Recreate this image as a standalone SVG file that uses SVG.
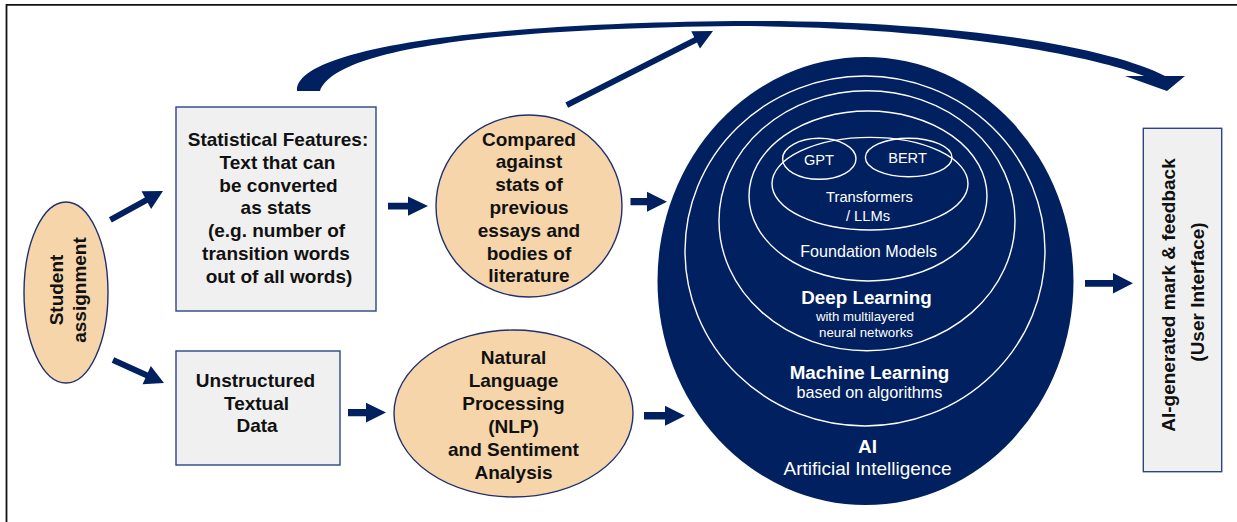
<svg xmlns="http://www.w3.org/2000/svg" width="1237" height="522" viewBox="0 0 1237 522">
<style>
.bg{fill:#ffffff}
.frame{stroke:#111111;stroke-width:1.8;fill:none}
.box{fill:#f0f0f0;stroke:#2f4383;stroke-width:1.4}
.peach{fill:#f6d5aa;stroke:#1f2f6f;stroke-width:1.4}
.navy{fill:#002060}
.ring{fill:none;stroke:#ffffff;stroke-width:1.4}
.arr{fill:#002060;stroke:none}
.t{font-family:"Liberation Sans",Arial,sans-serif;font-weight:bold;font-size:19px;fill:#111111;text-anchor:middle}
.w{font-family:"Liberation Sans",Arial,sans-serif;fill:#ffffff;text-anchor:middle}
.wb{font-weight:bold}
</style>
<rect class="bg" x="0" y="0" width="1237" height="522"/>
<path class="frame" d="M6.5,522 V4.8 H1237"/>

<g id="connectors">
  <!-- top curved arrow -->
  <path class="arr" d="M297,91 C295,52 455,24 735,21 C955,19 1112,48 1165,76 L1185,76 L1167,91 L1125,76 L1144,76 C1092,56 950,27 735,26 C470,29 334,52 320,91 Z"/>
  <!-- diagonal thin arrow up -->
  <path class="arr" transform="translate(713,31) rotate(-26.9)" d="M-164,-3 H-19.5 V-9.6 L0,0 L-19.5,9.6 V3 H-164 Z"/>
  <!-- student -> statistical -->
  <path class="arr" transform="translate(163,191) rotate(-28.7)" d="M-60,-3 H-19 V-10 L0,0 L-19,10 V3 H-60 Z"/>
  <!-- student -> unstructured -->
  <path class="arr" transform="translate(164,383) rotate(24.3)" d="M-56,-3 H-19 V-10 L0,0 L-19,10 V3 H-56 Z"/>
  <!-- statistical -> compared -->
  <path class="arr" d="M388,202.8 H408 V196.5 L428,206 L408,215.7 V209.4 H388 Z"/>
  <!-- compared -> AI -->
  <path class="arr" d="M630.5,198 H647 V191.7 L667,201.7 L647,211.7 V205.3 H630.5 Z"/>
  <!-- unstructured -> NLP -->
  <path class="arr" d="M348,409 H366 V402.7 L386,412.6 L366,422.4 V416.3 H348 Z"/>
  <!-- NLP -> AI -->
  <path class="arr" d="M644,412 H665 V405.7 L685,415.7 L665,425.7 V419.4 H644 Z"/>
  <!-- AI -> output -->
  <path class="arr" d="M1085,280 H1113 V273 L1133,283.2 L1113,293.4 V286.7 H1085 Z"/>
</g>

<g id="student">
  <ellipse class="peach" cx="66" cy="292.5" rx="42" ry="90.5"/>
  <text class="t" transform="translate(63,290) rotate(-90)">Student</text>
  <text class="t" transform="translate(85.5,290) rotate(-90)">assignment</text>
</g>

<g id="statistical">
  <rect class="box" x="176" y="107" width="200" height="204"/>
  <text class="t" x="278" y="146">Statistical Features:</text>
  <text class="t" x="277.5" y="168.8">Text that can</text>
  <text class="t" x="278.5" y="191.6">be converted</text>
  <text class="t" x="276" y="214.4">as stats</text>
  <text class="t" x="276.5" y="237.2">(e.g. number of</text>
  <text class="t" x="276" y="260">transition words</text>
  <text class="t" x="279" y="282.8">out of all words)</text>
</g>

<g id="unstructured">
  <rect class="box" x="176" y="351" width="164" height="114"/>
  <text class="t" x="255.5" y="387.3">Unstructured</text>
  <text class="t" x="256.5" y="409.6">Textual</text>
  <text class="t" x="257" y="432.2">Data</text>
</g>

<g id="compared">
  <ellipse class="peach" cx="529" cy="206" rx="93" ry="91"/>
  <text class="t" x="529" y="145.5">Compared</text>
  <text class="t" x="529" y="168.3">against</text>
  <text class="t" x="529" y="191.1">stats of</text>
  <text class="t" x="529" y="213.9">previous</text>
  <text class="t" x="529" y="236.7">essays and</text>
  <text class="t" x="529" y="259.5">bodies of</text>
  <text class="t" x="529" y="282.3">literature</text>
</g>

<g id="nlp">
  <ellipse class="peach" cx="513.5" cy="413.5" rx="119.5" ry="83.5"/>
  <text class="t" x="513.5" y="364">Natural</text>
  <text class="t" x="513.5" y="386.9">Language</text>
  <text class="t" x="513.5" y="409.8">Processing</text>
  <text class="t" x="513.5" y="432.7">(NLP)</text>
  <text class="t" x="513.5" y="455.6">and Sentiment</text>
  <text class="t" x="513.5" y="478.5">Analysis</text>
</g>

<g id="ai">
  <ellipse class="navy" cx="865.5" cy="281" rx="208" ry="224"/>
  <text class="w wb" x="867.5" y="452.7" font-size="19">AI</text>
  <text class="w" x="867.5" y="475" font-size="19">Artificial Intelligence</text>
</g>

<g id="machine-learning">
  <ellipse class="ring" cx="865" cy="251" rx="180" ry="175"/>
  <text class="w wb" x="869.5" y="379" font-size="18.8">Machine Learning</text>
  <text class="w" x="869.5" y="398.3" font-size="16.2">based on algorithms</text>
</g>

<g id="deep-learning">
  <ellipse class="ring" cx="867" cy="220.7" rx="148" ry="130"/>
  <text class="w wb" x="866.5" y="304" font-size="18.8">Deep Learning</text>
  <text class="w" x="865" y="320.7" font-size="13.2">with multilayered</text>
  <text class="w" x="866" y="336.7" font-size="13.3">neural networks</text>
</g>

<g id="foundation-models">
  <ellipse class="ring" cx="868" cy="196" rx="119" ry="85"/>
  <text class="w" x="868.7" y="256.7" font-size="16.1">Foundation Models</text>
</g>

<g id="transformers">
  <ellipse class="ring" cx="870" cy="183.7" rx="98" ry="46.3"/>
  <text class="w" x="869.5" y="202.3" font-size="14.7">Transformers</text>
  <text class="w" x="868" y="221" font-size="14.7">/ LLMs</text>
</g>

<g id="gpt">
  <ellipse class="ring" cx="819.3" cy="158.8" rx="36.7" ry="20.5"/>
  <text class="w" x="819" y="165" font-size="14.6">GPT</text>
</g>

<g id="bert">
  <ellipse class="ring" cx="908.7" cy="157.5" rx="43.3" ry="19.2"/>
  <text class="w" x="907.5" y="162.7" font-size="14.6">BERT</text>
</g>

<g id="output">
  <rect class="box" x="1143.3" y="128.3" width="78.4" height="343.4"/>
  <text class="t" transform="translate(1175,295) rotate(-90)">AI-generated mark &amp; feedback</text>
  <text class="t" transform="translate(1203.5,292) rotate(-90)">(User Interface)</text>
</g>
</svg>
